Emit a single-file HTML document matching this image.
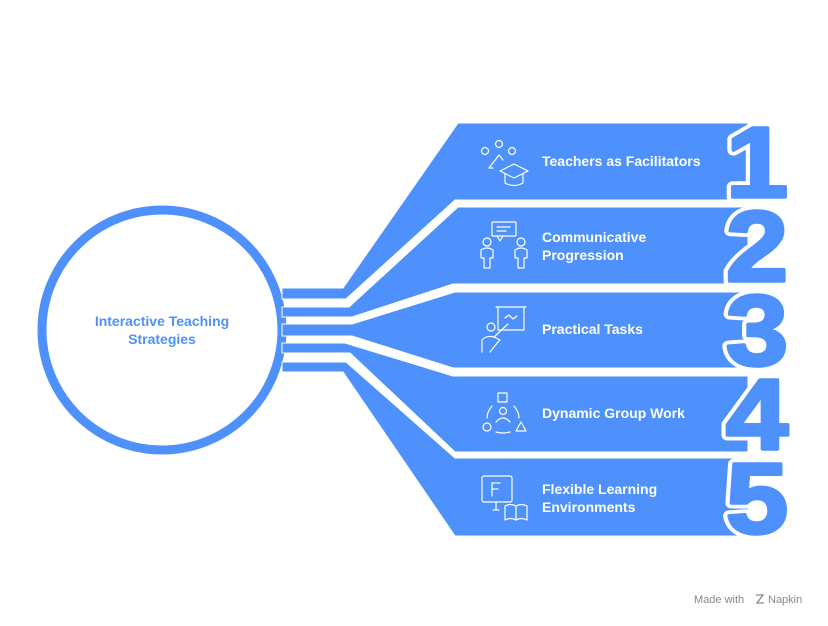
<!DOCTYPE html>
<html><head><style>
html,body{margin:0;padding:0;background:#fff;}
svg{display:block}
text{font-family:"Liberation Sans",sans-serif;}
</style></head><body>
<svg width="828" height="626" viewBox="0 0 828 626" xmlns="http://www.w3.org/2000/svg">
<rect width="828" height="626" fill="#fff"/>
<circle cx="162" cy="330" r="120" fill="none" stroke="#4F91FC" stroke-width="9"/>
<g fill="#4F91FC" stroke="#fff" stroke-width="1">
<polygon points="458,123 748,123 748,200 455,200 346,299 282,299 282,288 343,288"/>
<polygon points="458,207 748,207 748,284 453,284 352,317 282,317 282,307 349,307"/>
<polygon points="455,292 748,292 748,368 453,368 352,336 282,336 282,324 352,324"/>
<polygon points="453,376 748,376 748,452 455,452 350,353 282,353 282,343 345,343"/>
<polygon points="455,458 748,458 748,536 455,536 343,372 282,372 282,362 346,362"/>
</g>
<g font-weight="bold" font-size="100" text-anchor="middle" stroke-linejoin="round" transform="translate(757,0) scale(1.12,1) translate(-757,0)">
<g fill="#fff" stroke="#fff" stroke-width="11">
<text x="757" y="197">1</text>
<text x="757" y="281">2</text>
<text x="757" y="365">3</text>
<text x="757" y="449">4</text>
<text x="757" y="533">5</text>
</g>
<g fill="#4F91FC" stroke="#4F91FC" stroke-width="3.5">
<text x="757" y="197">1</text>
<text x="757" y="281">2</text>
<text x="757" y="365">3</text>
<text x="757" y="449">4</text>
<text x="757" y="533">5</text>
</g>
</g>
<g fill="#4F91FC" font-weight="bold" font-size="14" text-anchor="middle">
<text x="162" y="326">Interactive Teaching</text>
<text x="162" y="344">Strategies</text>
</g>
<g fill="#fff" font-weight="bold" font-size="14">
<text x="542" y="166">Teachers as Facilitators</text>
<text x="542" y="242">Communicative</text>
<text x="542" y="260">Progression</text>
<text x="542" y="334">Practical Tasks</text>
<text x="542" y="418">Dynamic Group Work</text>
<text x="542" y="494">Flexible Learning</text>
<text x="542" y="512">Environments</text>
</g>
<g fill="none" stroke="#fff" stroke-width="1.2" stroke-linecap="round" stroke-linejoin="round">
<circle cx="485" cy="151" r="3.5"/><circle cx="499" cy="144" r="3.5"/><circle cx="512" cy="151" r="3.5"/>
<path d="M489,168 L499,155 L503,160"/><path d="M489,168 L493,168"/>
<path d="M500,171 L514,164 L528,171 L514,178 Z"/><path d="M505,174 V183 Q514,188 523,183 V174"/>
<rect x="492" y="222" width="24" height="14" rx="1"/><path d="M497,236 L500,241 L503,236"/><path d="M497,227 H510 M497,231 H506"/>
<circle cx="487" cy="242" r="4"/><path d="M481,258 V250 Q487,246 493,250 V258 H490 V268 H484 V258 Z"/>
<circle cx="521" cy="242" r="4"/><path d="M515,258 V250 Q521,246 527,250 V258 H524 V268 H518 V258 Z"/>
<path d="M496,307 H526 M498,307 V330 H524 V307"/><path d="M505,318 L509,315 L513,319 L517,316"/>
<circle cx="491" cy="327" r="4"/><path d="M482,352 V340 Q486,335 494,337 L508,324 M494,337 L500,340 L498,342 L490,352"/>
<rect x="498" y="393" width="9" height="9"/><circle cx="503" cy="411" r="3.5"/><path d="M496,422 Q503,414 510,422"/>
<circle cx="487" cy="427" r="4"/><path d="M516,431 L521,422 L526,431 Z"/>
<path d="M492,406 Q487,412 487,418 M514,406 Q519,412 519,418 M496,432 Q503,434 510,432"/>
<rect x="482" y="476" width="30" height="26" rx="2"/><path d="M492,483 V496 M492,483 H500 M492,489 H498"/><path d="M496,502 V510 M493,510 H499"/>
<path d="M505,506 Q510,503 516,506 Q521,503 527,506 V520 Q521,517 516,520 Q510,517 505,520 Z M516,506 V520"/>
</g>
<text x="694" y="603" font-size="11" fill="#888">Made with</text>
<text x="768" y="603" font-size="11" fill="#888">Napkin</text>
<path d="M756,595 L763,595 L757,603 L764,603" fill="none" stroke="#888" stroke-width="1.3"/>
</svg>
</body></html>
